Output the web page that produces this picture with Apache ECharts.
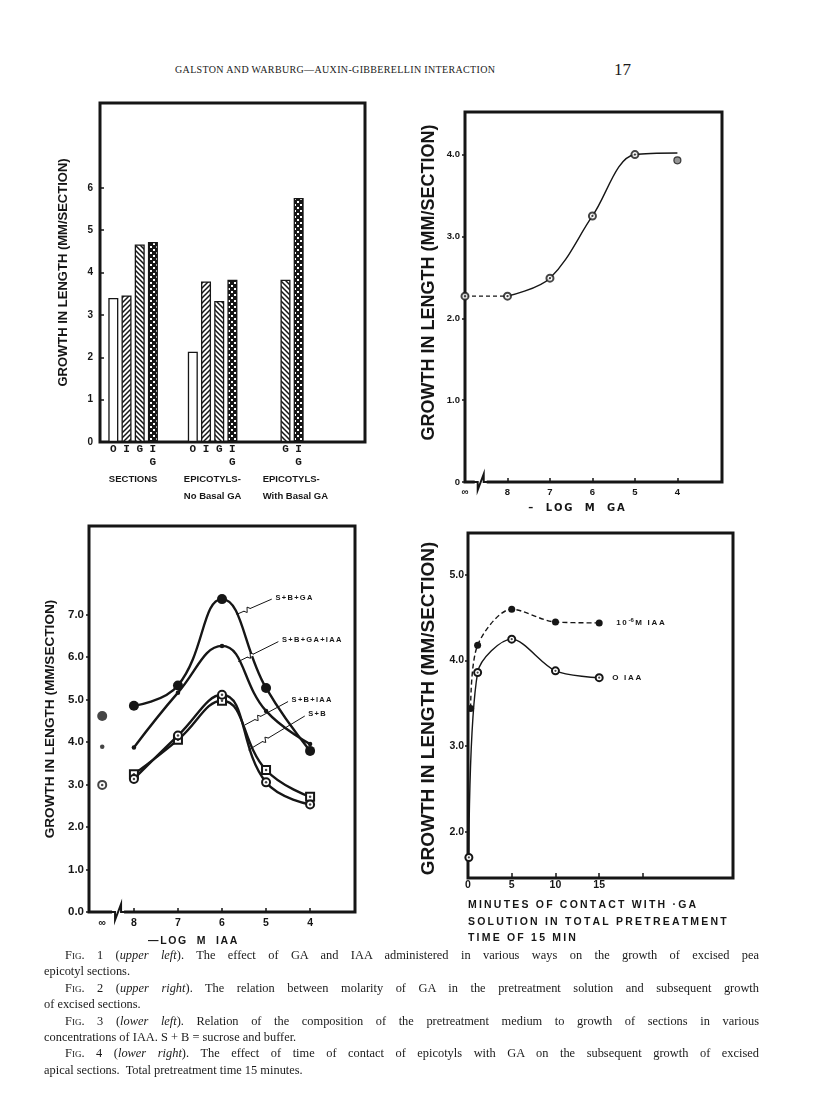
<!DOCTYPE html>
<html><head><meta charset="utf-8">
<script src="https://cdn.jsdelivr.net/npm/echarts@6/dist/echarts.min.js"></script>
<style>
html,body{margin:0;padding:0;background:#fff;}
#page{position:relative;width:816px;height:1120px;overflow:hidden;background:#fff;}
#chart{position:absolute;left:0;top:0;width:816px;height:1120px;}
.hdr{position:absolute;font-family:"Liberation Serif",serif;color:#1a1a1a;white-space:nowrap;}
#caption{position:absolute;left:44px;top:947px;width:715px;font-family:"Liberation Serif",serif;font-size:12.4px;line-height:16.4px;color:#1a1a1a;}
#caption div{white-space:nowrap;height:16.4px;}
#caption .full{text-align:justify;text-align-last:justify;white-space:normal;overflow:hidden;}
#caption .ind{padding-left:21px;}
.sc{font-variant:small-caps;}
</style></head>
<body>
<div id="page">
<div class="hdr" style="left:175px;top:64px;font-size:10px;letter-spacing:0.35px;">GALSTON AND WARBURG—AUXIN-GIBBERELLIN INTERACTION</div>
<div class="hdr" style="left:614px;top:60px;font-size:17px;">17</div>
<div id="chart"></div>
<div id="caption">
<div class="full ind"><span class="sc">Fig.</span> 1 (<i>upper left</i>). The effect of GA and IAA administered in various ways on the growth of excised pea</div>
<div>epicotyl sections.</div>
<div class="full ind"><span class="sc">Fig.</span> 2 (<i>upper right</i>). The relation between molarity of GA in the pretreatment solution and subsequent growth</div>
<div>of excised sections.</div>
<div class="full ind"><span class="sc">Fig.</span> 3 (<i>lower left</i>). Relation of the composition of the pretreatment medium to growth of sections in various</div>
<div>concentrations of IAA. S + B = sucrose and buffer.</div>
<div class="full ind"><span class="sc">Fig.</span> 4 (<i>lower right</i>). The effect of time of contact of epicotyls with GA on the subsequent growth of excised</div>
<div>apical sections.&nbsp; Total pretreatment time 15 minutes.</div>
</div>
</div>
<script>
// ---------------- DATA ----------------
// Fig 1 (bar chart)
const fig1Groups = ['SECTIONS', 'EPICOTYLS-\nNo Basal GA', 'EPICOTYLS-\nWith Basal GA'];
const fig1Treatments = ['O', 'I', 'G', 'I\nG'];
const fig1O  = [3.40, 2.13, null];
const fig1I  = [3.46, 3.79, null];
const fig1G  = [4.66, 3.33, 3.83];
const fig1IG = [4.72, 3.83, 5.76];
const fig1YTicks = [0, 1, 2, 3, 4, 5, 6];

// Fig 2 (growth vs -log M GA)
const fig2LogM = ['∞', 8, 7, 6, 5, 4];
const fig2Growth = [2.27, 2.27, 2.49, 3.25, 4.00, 3.93];
const fig2CurveLogM = [8, 7, 6, 5, 4];
const fig2Curve = [2.27, 2.49, 3.25, 4.00, 4.02];
const fig2XTicks = [8, 7, 6, 5, 4];
const fig2YTicks = [0, 1, 2, 3, 4];

// Fig 3 (growth vs -log M IAA)
const fig3LogM = [8, 7, 6, 5, 4];
const fig3Names = ['S+B+GA', 'S+B+GA+IAA', 'S+B+IAA', 'S+B'];
const fig3SBGA    = [4.85, 5.33, 7.36, 5.27, 3.79];
const fig3SBGAIAA = [3.87, 5.16, 6.26, 4.73, 3.95];
const fig3SBIAA   = [3.24, 4.05, 4.97, 3.34, 2.71];
const fig3SB      = [3.13, 4.15, 5.11, 3.05, 2.53];
const fig3AtInfinity = [4.61, 3.89, null, 2.99];
const fig3YTicks = [0, 1, 2, 3, 4, 5, 6, 7];

// Fig 4 (growth vs minutes of contact)
const fig4MinutesIAA = [0.3, 1.1, 5, 10, 15];
const fig4IAA = [3.44, 4.18, 4.60, 4.45, 4.44];
const fig4Minutes0 = [0.1, 1.1, 5, 10, 15];
const fig4NoIAA = [1.70, 3.86, 4.25, 3.88, 3.80];
const fig4XLabels = [0, 5, 10, 15];
const fig4XTicks = [5, 10, 15, 20];
const fig4YTicks = [2, 3, 4, 5];

// ---------------- LAYOUT / STYLE ----------------
const INK = '#161616';
const SANS = '"Liberation Sans", Arial, sans-serif';
const GEO = '"DejaVu Sans", sans-serif';
const MONO = '"Liberation Mono", monospace';
const G1 = {left: 100, top: 103, width: 265, height: 339};
const G2 = {left: 465, top: 112, width: 257, height: 370};
const G3 = {left: 89, top: 526, width: 266, height: 386};
const G4 = {left: 468, top: 533, width: 265, height: 345};
const SLOT_COUNT = 20, GROUP_SLOTS = [2, 8, 13];
const INF2 = 9, INF3 = 8.72;          // axis position used for "∞"
const BREAK2 = 8.63, BREAK3 = 8.36;   // axis-break squiggle position
// leader lines of fig 3 labels, in data units: [curve end, label end]
const fig3Leaders = [[[5.67, 7.00], [4.87, 7.36]], [[5.63, 5.89], [4.72, 6.36]], [[5.48, 4.40], [4.50, 4.95]], [[5.40, 3.81], [4.12, 4.61]]];

function spaced(text, key) {
  return text.split('\n').map(l => l.split('').map(c => '{' + key + '|' + c + '}').join('')).join('\n');
}
function tk(size, weight, family, pad, lh) {
  return {fontSize: size, fontWeight: weight, fontFamily: family, color: INK, padding: [0, pad, 0, 0], lineHeight: lh};
}

// patterns
function hatch(dir) {
  const s = 5, c = document.createElement('canvas'); c.width = s; c.height = s;
  const x = c.getContext('2d'); x.fillStyle = '#fff'; x.fillRect(0, 0, s, s);
  x.strokeStyle = INK; x.lineWidth = 1.5; x.beginPath();
  if (dir > 0) { x.moveTo(-1, s + 1); x.lineTo(s + 1, -1); x.moveTo(-2, 2); x.lineTo(2, -2); x.moveTo(s - 2, s + 2); x.lineTo(s + 2, s - 2); }
  else { x.moveTo(-1, -1); x.lineTo(s + 1, s + 1); x.moveTo(-2, s - 2); x.lineTo(2, s + 2); x.moveTo(s - 2, -2); x.lineTo(s + 2, 2); }
  x.stroke(); return c;
}
function dots() {
  const c = document.createElement('canvas'); c.width = 6; c.height = 6;
  const x = c.getContext('2d'); x.fillStyle = INK; x.fillRect(0, 0, 6, 6);
  x.fillStyle = '#fff'; x.fillRect(0, 0, 2, 2); x.fillRect(3, 3, 2, 2); return c;
}
const fills = ['#fff', {image: hatch(1), repeat: 'repeat'}, {image: hatch(-1), repeat: 'repeat'}, {image: dots(), repeat: 'repeat'}];

const gridBase = {show: true, borderColor: INK, borderWidth: 3, backgroundColor: 'transparent', containLabel: false, outerBoundsMode: 'none'};

// ---------------- FIG 1 ----------------
const fig1Cats = new Array(SLOT_COUNT).fill('');
GROUP_SLOTS.forEach((s, i) => fig1Cats[s] = fig1Groups[i]);
const fig1Values = [fig1O, fig1I, fig1G, fig1IG];
const groupLabelStyle = {fontSize: 9.5, fontFamily: SANS, fontWeight: 'bold', color: INK, lineHeight: 17};
const fig1Series = fig1Values.map((vals, t) => {
  const data = new Array(SLOT_COUNT).fill(null);
  GROUP_SLOTS.forEach((s, i) => data[s] = vals[i]);
  return {
    type: 'bar', name: fig1Treatments[t], xAxisIndex: 0, yAxisIndex: 0, data,
    barWidth: 10, barGap: '32%',
    itemStyle: {color: fills[t], borderColor: INK, borderWidth: 1.3},
    label: {show: true, position: 'bottom', distance: 1, formatter: () => fig1Treatments[t],
      fontFamily: MONO, fontWeight: 'bold', fontSize: 11, lineHeight: 13, color: INK}
  };
});

// ---------------- FIG 2 ----------------
const toX2 = v => v === '∞' ? INF2 : v;
const fig2Pts = fig2LogM.map((v, i) => [toX2(v), fig2Growth[i]]);
const fig2Series = [
  {type: 'line', xAxisIndex: 1, yAxisIndex: 1, smooth: 0.35, showSymbol: false, clip: false,
   data: fig2CurveLogM.map((v, i) => [v, fig2Curve[i]]), lineStyle: {color: INK, width: 1.4}, z: 3},
  {type: 'line', xAxisIndex: 1, yAxisIndex: 1, showSymbol: false, clip: false,
   data: fig2Pts.slice(0, 2), lineStyle: {color: INK, width: 1.2, type: [4, 3]}, z: 3},
  {type: 'scatter', xAxisIndex: 1, yAxisIndex: 1, clip: false, z: 4,
   data: fig2Pts.map((p, i) => i < fig2Pts.length - 1 ? {value: p} : {value: p, symbol: 'circle', itemStyle: {color: '#7a7a7a', borderColor: INK, borderWidth: 1.2}}),
   symbol: 'emptyCircle', symbolSize: 7, itemStyle: {color: INK, borderWidth: 1.1}},
  {type: 'scatter', xAxisIndex: 1, yAxisIndex: 1, clip: false, z: 5,
   data: fig2Pts.slice(0, fig2Pts.length - 1), symbol: 'circle', symbolSize: 2.2, itemStyle: {color: INK}},
];

// ---------------- FIG 3 ----------------
const fig3Values = [fig3SBGA, fig3SBGAIAA, fig3SBIAA, fig3SB];
const fig3Sym = [
  {symbol: 'circle', size: 10, dot: false},
  {symbol: 'circle', size: 4.5, dot: false},
  {symbol: 'emptyRect', size: 8, dot: true},
  {symbol: 'emptyCircle', size: 8, dot: true},
];
const annRich = {a: tk(7.5, 'bold', SANS, 1.3, 10)};
const fig3Series = [];
fig3Values.forEach((vals, k) => {
  const pts = fig3LogM.map((x, i) => [x, vals[i]]);
  const sym = fig3Sym[k];
  fig3Series.push({
    type: 'line', name: fig3Names[k], xAxisIndex: 2, yAxisIndex: 2, smooth: 0.45, data: pts,
    symbol: sym.symbol, symbolSize: sym.size, showSymbol: true, clip: false, z: 3 + k,
    lineStyle: {color: INK, width: 2.4}, itemStyle: {color: INK, borderWidth: 1.3},
    markLine: {silent: true, symbol: ['none', 'none'], animation: false,
      lineStyle: {color: INK, width: 1, type: 'solid'},
      label: {show: true, position: 'end', distance: 4, formatter: spaced(fig3Names[k], 'a'), rich: annRich},
      data: [[{coord: fig3Leaders[k][0]}, {coord: fig3Leaders[k][1]}]]}
  });
  if (fig3AtInfinity[k] != null) {
    fig3Series.push({type: 'scatter', xAxisIndex: 2, yAxisIndex: 2, clip: false, z: 8,
      data: [[INF3, fig3AtInfinity[k]]], symbol: sym.symbol, symbolSize: sym.size,
      itemStyle: {color: INK, borderWidth: 1.3}});
  }
  if (sym.dot) {
    const dp = pts.slice();
    if (fig3AtInfinity[k] != null) dp.push([INF3, fig3AtInfinity[k]]);
    fig3Series.push({type: 'scatter', xAxisIndex: 2, yAxisIndex: 2, clip: false, z: 9,
      data: dp, symbol: 'circle', symbolSize: 2.5, itemStyle: {color: INK}});
  }
});
// small zigzag on each leader line
fig3Series.push({type: 'custom', xAxisIndex: 2, yAxisIndex: 2, clip: false, silent: true, z: 12,
  data: fig3Leaders.map(l => [l[0][0], l[0][1], l[1][0], l[1][1]]),
  renderItem: (params, api) => {
    const a = api.coord([api.value(0), api.value(1)]), b = api.coord([api.value(2), api.value(3)]);
    const dx = b[0] - a[0], dy = b[1] - a[1], L = Math.hypot(dx, dy);
    const ux = dx / L, uy = dy / L, nx = -uy, ny = ux;
    const mx = a[0] + dx * 0.3, my = a[1] + dy * 0.3;
    return {type: 'group', children: [
      {type: 'line', shape: {x1: mx - 3 * ux, y1: my - 3 * uy, x2: mx + 3 * ux, y2: my + 3 * uy}, style: {stroke: '#fff', lineWidth: 2.5}},
      {type: 'polyline', shape: {points: [[mx - 3.5 * ux, my - 3.5 * uy], [mx - 1 * ux + 2.5 * nx, my - 1 * uy + 2.5 * ny],
        [mx + 1 * ux - 2.5 * nx, my + 1 * uy - 2.5 * ny], [mx + 3.5 * ux, my + 3.5 * uy]]},
       style: {stroke: INK, lineWidth: 1, fill: null}}
    ]};
  }});

// ---------------- FIG 4 ----------------
const endRich = {e: tk(8, 'bold', SANS, 1.7, 10), s: {fontSize: 6, fontWeight: 'bold', fontFamily: SANS, color: INK, padding: [0, 1.5, 6, 0]}};
const fig4Series = [
  {type: 'line', xAxisIndex: 3, yAxisIndex: 3, smooth: 0.3, clip: false, z: 3,
   data: fig4MinutesIAA.map((m, i) => [m, fig4IAA[i]]),
   symbol: 'circle', symbolSize: 7, itemStyle: {color: INK},
   lineStyle: {color: INK, width: 1.4, type: [5, 3]},
   endLabel: {show: true, distance: 17, formatter: spaced('10', 'e') + '{s|-6}' + spaced('M IAA', 'e'), rich: endRich}},
  {type: 'line', xAxisIndex: 3, yAxisIndex: 3, smooth: 0.3, clip: false, z: 3,
   data: fig4Minutes0.map((m, i) => [m, fig4NoIAA[i]]),
   symbol: 'emptyCircle', symbolSize: 7, itemStyle: {color: INK, borderWidth: 1.1},
   lineStyle: {color: INK, width: 1.4},
   endLabel: {show: true, distance: 13, formatter: spaced('O IAA', 'e'), rich: endRich}},
  {type: 'scatter', xAxisIndex: 3, yAxisIndex: 3, clip: false, z: 5,
   data: fig4Minutes0.map((m, i) => [m, fig4NoIAA[i]]), symbol: 'circle', symbolSize: 2.2, itemStyle: {color: INK}},
];

// axis break squiggles
function breakSeries(xi, at) {
  return {type: 'custom', xAxisIndex: xi, yAxisIndex: xi, data: [[at, 0]], z: 10, clip: false, silent: true,
    renderItem: (params, api) => {
      const p = api.coord([api.value(0), api.value(1)]);
      const x = p[0], y = p[1];
      return {type: 'group', children: [
        {type: 'rect', shape: {x: x - 6, y: y - 3, width: 12, height: 6}, style: {fill: '#fff'}},
        {type: 'polyline', shape: {points: [[x - 8, y], [x - 3, y], [x - 3, y + 8], [x + 3, y - 8], [x + 3, y], [x + 8, y]]},
         style: {stroke: INK, lineWidth: 2, fill: null}}
      ]};
    }};
}

const tickStyle = {color: INK, width: 1.5};
function valAxis(o) {
  return Object.assign({type: 'value', axisLine: {show: false}, splitLine: {show: false}}, o);
}

const option = {
  animation: false,
  grid: [Object.assign({}, gridBase, G1), Object.assign({}, gridBase, G2), Object.assign({}, gridBase, G3), Object.assign({}, gridBase, G4)],
  xAxis: [
    {type: 'category', gridIndex: 0, data: fig1Cats, axisLine: {show: false}, axisTick: {show: false}, splitLine: {show: false},
     axisLabel: {interval: 0, margin: 29, verticalAlign: 'top',
       formatter: (v, i) => {
         if (!v) return '';
         const g = GROUP_SLOTS.indexOf(i);
         const key = g === 0 ? 'c' : (g === 1 ? 'l' : 'r');
         return v.split('\n').map(s => '{' + key + '|' + s + '}').join('\n');
       },
       rich: {c: Object.assign({align: 'center'}, groupLabelStyle), l: Object.assign({align: 'left'}, groupLabelStyle),
              r: Object.assign({align: 'left', padding: [0, 0, 0, 33]}, groupLabelStyle)}}},
    valAxis({gridIndex: 1, inverse: true, min: 2.95, max: 9,
     axisTick: {show: true, inside: true, length: 4, customValues: fig2XTicks, lineStyle: tickStyle},
     axisLabel: {customValues: fig2LogM.map(toX2), formatter: v => (v === INF2 ? '∞' : String(v)), margin: 5,
       fontSize: 9.5, fontWeight: 'bold', fontFamily: SANS, color: INK},
     name: spaced('–  LOG  M  GA', 'n'), nameLocation: 'middle', nameGap: 20,
     nameTextStyle: {padding: [0, 32, 0, 0], rich: {n: tk(10, 'bold', GEO, 1.8, 12)}}}),
    valAxis({gridIndex: 2, inverse: true, min: 2.98, max: 9.02,
     axisTick: {show: true, inside: true, length: 4, customValues: fig3LogM, lineStyle: tickStyle},
     axisLabel: {customValues: [INF3].concat(fig3LogM), formatter: v => (v === INF3 ? '∞' : String(v)), margin: 6,
       fontSize: 10.5, fontWeight: 'bold', fontFamily: SANS, color: INK},
     name: spaced('—LOG  M  IAA', 'n'), nameLocation: 'middle', nameGap: 23,
     nameTextStyle: {padding: [0, 57, 0, 0], rich: {n: tk(10.5, 'bold', SANS, 1.6, 12)}}}),
    valAxis({gridIndex: 3, min: 0, max: 30.3,
     axisTick: {show: true, inside: true, length: 5, customValues: fig4XTicks, lineStyle: tickStyle},
     axisLabel: {customValues: fig4XLabels, margin: 2, fontSize: 10.5, fontWeight: 'bold', fontFamily: SANS, color: INK},
     name: spaced('MINUTES OF CONTACT WITH ·GA\nSOLUTION IN TOTAL PRETREATMENT\nTIME OF 15 MIN', 'n'),
     nameLocation: 'start', nameGap: 0,
     nameTextStyle: {align: 'left', verticalAlign: 'top', padding: [19, 0, 0, 0], rich: {n: tk(10.5, 'bold', SANS, 2.2, 16.5)}}}),
  ],
  yAxis: [
    valAxis({gridIndex: 0, min: 0, max: 8,
     axisTick: {show: true, inside: true, length: 4, customValues: fig1YTicks, lineStyle: tickStyle},
     axisLabel: {customValues: fig1YTicks, margin: 7, fontSize: 10, fontWeight: 'bold', fontFamily: SANS, color: INK},
     name: 'GROWTH IN LENGTH (MM/SECTION)', nameLocation: 'middle', nameGap: 30,
     nameTextStyle: {fontSize: 13, fontWeight: 'bold', fontFamily: SANS, color: INK}}),
    valAxis({gridIndex: 1, min: 0, max: 4.52,
     axisTick: {show: true, inside: false, length: 3, customValues: fig2YTicks, lineStyle: tickStyle},
     axisLabel: {customValues: fig2YTicks, formatter: v => (v === 0 ? '0' : v.toFixed(1)), margin: 5,
       fontSize: 9.5, fontWeight: 'bold', fontFamily: SANS, color: INK},
     name: 'GROWTH IN LENGTH (MM/SECTION)', nameLocation: 'middle', nameGap: 27,
     nameTextStyle: {fontSize: 18, fontWeight: 'bold', fontFamily: SANS, color: INK, padding: [0, 0, 0, 29]}}),
    valAxis({gridIndex: 2, min: 0, max: 9.08,
     axisTick: {show: true, inside: false, length: 3, customValues: fig3YTicks, lineStyle: tickStyle},
     axisLabel: {customValues: fig3YTicks, formatter: v => v.toFixed(1), margin: 5,
       fontSize: 11.5, fontWeight: 'bold', fontFamily: SANS, color: INK},
     name: 'GROWTH IN LENGTH (MM/SECTION)', nameLocation: 'middle', nameGap: 32,
     nameTextStyle: {fontSize: 13.6, fontWeight: 'bold', fontFamily: SANS, color: INK}}),
    valAxis({gridIndex: 3, min: 1.46, max: 5.49,
     axisTick: {show: true, inside: false, length: 3, customValues: fig4YTicks, lineStyle: tickStyle},
     axisLabel: {customValues: fig4YTicks, formatter: v => v.toFixed(1), margin: 4,
       fontSize: 10.5, fontWeight: 'bold', fontFamily: SANS, color: INK},
     name: 'GROWTH IN LENGTH (MM/SECTION)', nameLocation: 'middle', nameGap: 30,
     nameTextStyle: {fontSize: 19, fontWeight: 'bold', fontFamily: SANS, color: INK, padding: [0, 6, 0, 0]}}),
  ],
  series: [].concat(fig1Series, fig2Series, fig3Series, fig4Series, [breakSeries(1, BREAK2), breakSeries(2, BREAK3)])
};

const chart = echarts.init(document.getElementById('chart'), null, {renderer: 'canvas'});
chart.setOption(option);
</script>
</body></html>
